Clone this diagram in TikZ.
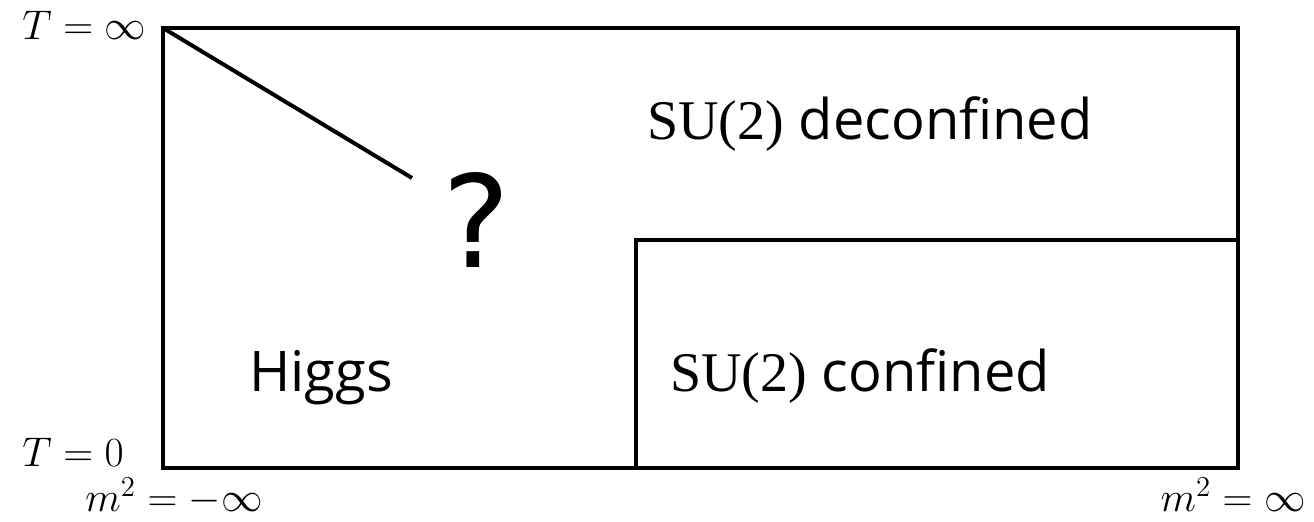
\documentclass[tikz,border=0pt]{standalone}
\usepackage{fontspec}
\setmainfont{Open Sans}
\newfontfamily\groupfont{Liberation Serif}
\newfontfamily\markfont{DejaVu Sans}
\newcommand{\grp}{{\groupfont SU(2)}}
\begin{document}
\begin{tikzpicture}[x=0.5pt,y=-0.5pt,
  frame/.style={line width=2pt,line join=miter},
  region/.style={inner sep=0pt,anchor=base,font=\fontsize{28}{33}\selectfont},
  axislabel/.style={inner sep=0pt,font=\fontsize{21}{25}\selectfont}]
\useasboundingbox (0,0) rectangle (1314,522);
% corners of the phase diagram
\coordinate (tl) at (163,28);
\coordinate (tr) at (1238,28);
\coordinate (bl) at (163,468);
\coordinate (br) at (1238,468);
% boundary of the confined phase
\coordinate (cb) at (636,468);
\coordinate (ct) at (636,240);
\coordinate (cr) at (1238,240);
% end of the Higgs transition line
\coordinate (hend) at (412,178);

\draw[frame] (tl) -- (tr) -- (br) -- (bl) -- cycle;
\draw[frame] (cb) -- (ct) -- (cr);
\draw[frame] (tl) -- (hend);

\node[region] (deconf) at (870,140) {\grp{} deconfined};
\node[region] (conf) at (860,392) {\grp{} confined};
\node[region] (higgs) at (321,392) {Higgs};
\node[inner sep=0pt,anchor=base,font=\markfont\fontsize{64}{70}\selectfont] (q) at (476,268) {?};

\node[axislabel,anchor=base west,font=\fontsize{19.5}{24}\selectfont] (tinf) at (22,40) {$T=\infty$};
\node[axislabel,anchor=base west] (tzero) at (22,467) {$T=0$};
\node[axislabel,anchor=base west] (mneg) at (85,512) {$m^2=-\infty$};
\node[axislabel,anchor=base east] (mpos) at (1306,512) {$m^2=\infty$};
\end{tikzpicture}
\end{document}
